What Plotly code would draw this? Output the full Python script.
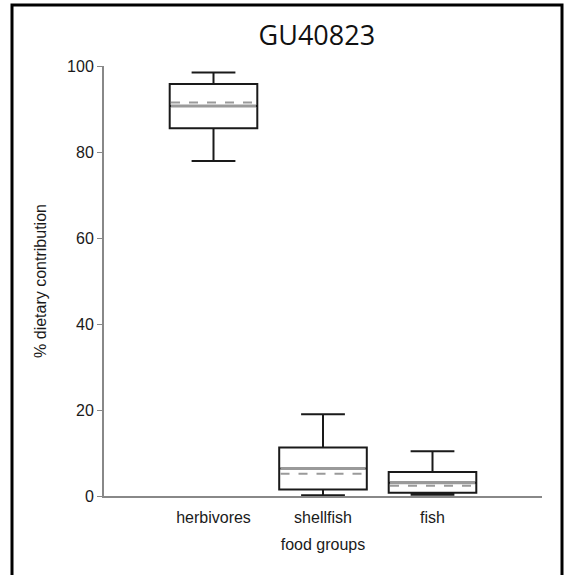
import plotly.graph_objects as go

categories = ["herbivores", "shellfish", "fish"]
lower_whisker = [77.9, 0.2, 0.3]
q1 = [85.5, 1.5, 0.75]
median = [90.7, 6.4, 3.1]
mean = [91.5, 5.2, 2.4]
q3 = [95.8, 11.3, 5.6]
upper_whisker = [98.5, 19.0, 10.4]
y_ticks = [0, 20, 40, 60, 80, 100]

xpos = list(range(len(categories)))
box_w = 0.8
inset = 0.012

fig = go.Figure()
fig.add_trace(go.Box(
    x=xpos, q1=q1, median=median, q3=q3,
    lowerfence=lower_whisker, upperfence=upper_whisker,
    width=box_w, whiskerwidth=0.5,
    fillcolor="white", line=dict(color="#1a1a1a", width=2),
    showlegend=False, hoverinfo="skip",
))

shapes = []
for i in xpos:
    shapes.append(dict(type="line", xref="x", yref="y", layer="above",
                       x0=i - box_w / 2 + inset, x1=i + box_w / 2 - inset,
                       y0=median[i], y1=median[i],
                       line=dict(color="#9a9a9a", width=3.2)))
    shapes.append(dict(type="line", xref="x", yref="y", layer="above",
                       x0=i - box_w / 2 + inset, x1=i + box_w / 2 - inset,
                       y0=mean[i], y1=mean[i],
                       line=dict(color="#9a9a9a", width=2, dash="9px,9px")))

shapes.append(dict(type="rect", xref="paper", yref="paper",
                   x0=(12 - 104) / 438, x1=(562 - 104) / 438,
                   y0=(496 - 600) / 430, y1=(496 - 5) / 430,
                   line=dict(color="black", width=3), fillcolor="rgba(0,0,0,0)",
                   layer="above"))

fig.update_layout(
    width=567, height=575,
    margin=dict(l=104, r=25, t=66, b=79),
    paper_bgcolor="white", plot_bgcolor="white",
    font=dict(family="Liberation Sans, Arial", size=16, color="#1a1a1a"),
    title=dict(text="GU40823", x=0.486, xref="paper", xanchor="center",
               y=1 - 36 / 575, yref="container", yanchor="middle",
               font=dict(family="Open Sans", size=27, color="#111111")),
    xaxis=dict(range=[-1, 3], tickvals=xpos, ticktext=categories,
               showgrid=False, zeroline=False, showline=True,
               linecolor="#888888", linewidth=2, ticks="",
               ticklabelstandoff=6,
               title=dict(text="food groups", standoff=14, font=dict(size=16)),
               tickfont=dict(size=16)),
    yaxis=dict(range=[0, 100], tickvals=y_ticks, showgrid=False,
               zeroline=False, showline=True, linecolor="#888888", linewidth=2,
               ticks="outside", ticklen=5, tickcolor="#888888", tickwidth=1,
               title=dict(text="% dietary contribution", standoff=16, font=dict(size=16)),
               tickfont=dict(size=16)),
    shapes=shapes,
)

fig.write_html("out.html")
